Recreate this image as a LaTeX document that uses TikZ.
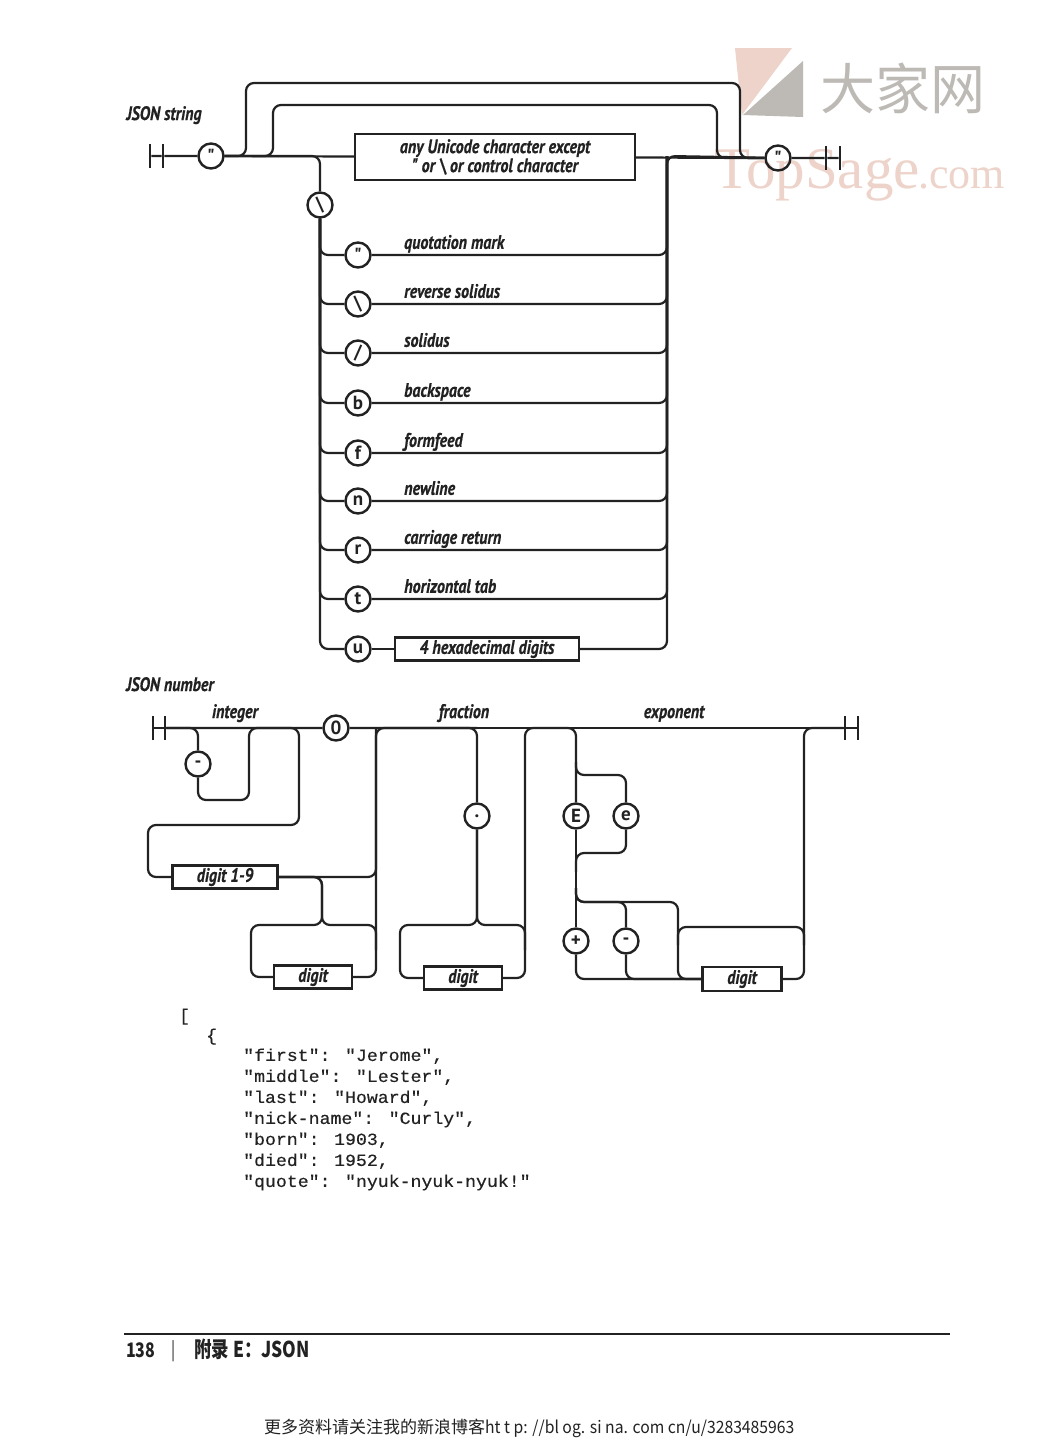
\documentclass[tikz,border=0pt]{standalone}
\usepackage{fontspec}
\usepackage{xcolor}
\usepackage{tikz}
\usetikzlibrary{positioning}
\newfontfamily\labfont[FakeStretch=0.82,FakeBold=0.5]{PT Sans}
\newfontfamily\tokfont{PT Sans}
\newfontfamily\codefont[FakeStretch=1.07,FakeBold=0.4]{Liberation Mono}
\newfontfamily\markfont{Liberation Serif}
\newfontfamily\cjkfont{Noto Sans CJK SC}
\newfontfamily\pagefont[FakeStretch=0.8]{Noto Sans CJK SC}
\newfontfamily\blogfont[FakeStretch=0.925]{Noto Sans CJK SC}
\definecolor{ink}{HTML}{222222}
\definecolor{markpink}{HTML}{EDD3CA}
\definecolor{markgrey}{HTML}{BDBAB6}

\begin{document}
\begin{tikzpicture}[x=1pt, y=-1pt, on grid,
    wire/.style={draw=ink, line width=2.2pt, rounded corners=8pt},
    bar/.style={fill=ink, minimum width=2.4pt, minimum height=24pt, inner sep=0pt},
    tok/.style={circle, draw=ink, line width=2.4pt, minimum size=25pt, inner sep=0pt, text=ink, font=\tokfont\bfseries\fontsize{19}{19}\selectfont},
    rule/.style={rectangle, draw=ink, line width=2.4pt, inner sep=0pt, text=ink, font=\labfont\bfseries\itshape\fontsize{19.5}{19}\selectfont, align=center},
    lab/.style={inner sep=0pt, text depth=0pt, text=ink, font=\labfont\bfseries\itshape\fontsize{19.5}{19}\selectfont},
    code/.style={inner sep=0pt, text=ink, font=\codefont\fontsize{17}{21}\selectfont, align=left}]
    \useasboundingbox[fill=white] (0,0) rectangle (1057,1441);

    % watermark
    \fill[markpink] (735,48) -- (792,48) -- (742,115) -- cycle;
    \fill[markgrey] (803,61) -- (803,117) -- (743,115) -- cycle;
    \node [text=markgrey, font=\cjkfont\fontsize{55}{55}\selectfont, inner sep=0pt] (markcn) at (903,88) {大家网};
    \node [text=markpink, font=\markfont\fontsize{59}{59}\selectfont, inner sep=0pt, anchor=base west] (marktop) at (714,188) {TopSage};
    \node [text=markpink, font=\markfont\fontsize{44}{44}\selectfont, inner sep=0pt, anchor=base west] (markcom) at (918,188) {.com};

    % JSON string
    \node [lab, anchor=base] (strtitle) at (164,120) {JSON string};
    \node [bar] (sa) at (150,156) {};
    \node [bar, right=13pt of sa] (sb) {};
    \node [tok, right=48pt of sb] (qopen) {"};
    \node [rule, minimum width=280pt, minimum height=46pt] (anychar) at (495,157) {any Unicode character except\\" or \textbackslash{} or control character};
    \node [tok] (qclose) at (778,158) {"};
    \node [bar] (sd) at (840,158) {};
    \node [bar, left=14pt of sd] (sc) {};
    \node [tok] (esc) at (320,205) {\textbackslash};
    \coordinate (oa) at (246,83);
    \coordinate (ob) at (740,158);
    \coordinate (ia) at (273,105);
    \coordinate (ib) at (717,158);
    \coordinate (rtop) at (667,156);

    \draw [wire] (sa) -- (sb) -- (qopen) -- (anychar) -- (qclose) -- (sc) -- (sd);
    \draw [wire] (qopen) -| (oa) -| (ob) -- (qclose);
    \draw [wire] (qopen) -| (ia) -| (ib) -- (qclose);
    \draw [wire] (qopen) -| (esc);

    \node [tok] (cq) at (358,255) {"};
    \node [tok, below=49pt of cq] (cback) {\textbackslash};
    \node [tok, below=49pt of cback] (cslash) {/};
    \node [tok, below=50pt of cslash] (cb) {b};
    \node [tok, below=50pt of cb] (cf) {f};
    \node [tok, below=48pt of cf] (cn) {n};
    \node [tok, below=49pt of cn] (cr) {r};
    \node [tok, below=49pt of cr] (ct) {t};
    \node [tok, below=50pt of ct] (cu) {u};
    \node [rule, minimum width=184pt, minimum height=23pt, right=129pt of cu] (hex) {4 hexadecimal digits};

    \node [lab, above right=6pt and 46pt of cq, anchor=south west] (lq) {quotation mark};
    \node [lab, above right=6pt and 46pt of cback, anchor=south west] (lback) {reverse solidus};
    \node [lab, above right=6pt and 46pt of cslash, anchor=south west] (lslash) {solidus};
    \node [lab, above right=6pt and 46pt of cb, anchor=south west] (lb) {backspace};
    \node [lab, above right=6pt and 46pt of cf, anchor=south west] (lf) {formfeed};
    \node [lab, above right=6pt and 46pt of cn, anchor=south west] (ln) {newline};
    \node [lab, above right=6pt and 46pt of cr, anchor=south west] (lr) {carriage return};
    \node [lab, above right=6pt and 46pt of ct, anchor=south west] (lt) {horizontal tab};

    \draw [wire] (esc) |- (cq);
    \draw [wire] (esc) |- (cback);
    \draw [wire] (esc) |- (cslash);
    \draw [wire] (esc) |- (cb);
    \draw [wire] (esc) |- (cf);
    \draw [wire] (esc) |- (cn);
    \draw [wire] (esc) |- (cr);
    \draw [wire] (esc) |- (ct);
    \draw [wire] (esc) |- (cu);
    \draw [wire] (cu) -- (hex);
    \draw [wire] (cq) -| (rtop);
    \draw [wire] (cback) -| (rtop);
    \draw [wire] (cslash) -| (rtop);
    \draw [wire] (cb) -| (rtop);
    \draw [wire] (cf) -| (rtop);
    \draw [wire] (cn) -| (rtop);
    \draw [wire] (cr) -| (rtop);
    \draw [wire] (ct) -| (rtop);
    \draw [wire] (hex) -| (rtop) -- (qclose);

    % JSON number
    \node [lab, anchor=base] (numtitle) at (170,691) {JSON number};
    \node [lab, anchor=base] (lint) at (235,718) {integer};
    \node [lab, anchor=base] (lfrac) at (464,718) {fraction};
    \node [lab, anchor=base] (lexp) at (674,718) {exponent};
    \node [bar] (na) at (153,728) {};
    \node [bar, right=12pt of na] (nb) {};
    \node [tok] (zero) at (336,728) {0};
    \node [bar] (nc) at (845,728) {};
    \node [bar, right=13pt of nc] (nd) {};
    \node [tok] (sign) at (198,764) {-};
    \node [rule, minimum width=105pt, minimum height=23pt] (dnz) at (225,877) {digit 1-9};
    \node [rule, minimum width=78pt, minimum height=23pt] (dint) at (313,977) {digit};
    \node [tok] (dot) at (477,816) {.};
    \node [rule, minimum width=78pt, minimum height=23pt] (dfrac) at (463,978) {digit};
    \node [tok] (ce) at (576,816) {E};
    \node [tok, right=50pt of ce] (cee) {e};
    \node [tok] (plus) at (576,941) {+};
    \node [tok, right=50pt of plus] (minus) {-};
    \node [rule, minimum width=79pt, minimum height=24pt] (dexp) at (742,979) {digit};

    \coordinate (sb1) at (249,800);
    \coordinate (ja) at (299,825);
    \coordinate (jb) at (148,877);
    \coordinate (ka) at (376,728);
    \coordinate (kb) at (322,925);
    \coordinate (kc) at (251,925);
    \coordinate (kd) at (376,950);
    \coordinate (fa) at (400,925);
    \coordinate (fb) at (525,728);
    \coordinate (fc) at (525,925);
    \coordinate (fd) at (525,950);
    \coordinate (ea) at (576,762);
    \coordinate (eb) at (626,775);
    \coordinate (ec) at (576,853);
    \coordinate (ed) at (576,872);
    \coordinate (ef) at (576,888);
    \coordinate (eg) at (678,902);
    \coordinate (eh) at (626,902);
    \coordinate (ej) at (804,728);
    \coordinate (ek) at (678,945);
    \coordinate (el) at (804,927);
    \coordinate (em) at (804,945);

    \draw [wire] (na) -- (nb) -- (zero) -- (nc) -- (nd);
    \draw [wire] (nb) -| (sign);
    \draw [wire] (sign) |- (sb1) |- (zero);
    \draw [wire] (nb) -| (ja) -| (jb) -- (dnz);
    \draw [wire] (dnz) -| (ka) -- (dot |- zero);
    \draw [wire] (dnz) -| (kb) -- (kc) |- (dint);
    \draw [wire] (dnz) -| (kb) -| (kd);
    \draw [wire] (dint) -| (ka);
    \draw [wire] (zero) -| (dot);
    \draw [wire] (dot) |- (fa) |- (dfrac);
    \draw [wire] (dot) |- (fc) -- (fd);
    \draw [wire] (dfrac) -| (fb) -| (ce);
    \draw [wire] (ce) -- (plus);
    \draw [wire] (ea) |- (eb) -- (cee);
    \draw [wire] (cee) |- (ec) -- (ed);
    \draw [wire] (ef) |- (eh) -- (minus);
    \draw [wire] (ef) |- (eg) |- (dexp);
    \draw [wire] (plus) |- (dexp);
    \draw [wire] (minus) |- (dexp);
    \draw [wire] (ek) |- (el) -- (em);
    \draw [wire] (dexp) -| (ej) -- (nc);

    % sample text
    \node [code, anchor=base west] (open1) at (179,1021) {[};
    \node [code, anchor=base west] (open2) at (206,1041) {\{};
    \node [code, anchor=west] (sample) at (243,1119.5) {"first": "Jerome",\\"middle": "Lester",\\"last": "Howard",\\"nick-name": "Curly",\\"born": 1903,\\"died": 1952,\\"quote": "nyuk-nyuk-nyuk!"};

    % page foot
    \node [fill=ink, minimum width=826pt, minimum height=2pt, inner sep=0pt] (footrule) at (537,1334) {};
    \node [anchor=base west, inner sep=0pt, text=ink, font=\pagefont\bfseries\fontsize{20}{20}\selectfont] (pageno) at (126,1357) {138};
    \node [anchor=base, inner sep=0pt, text=ink, font=\pagefont\fontsize{19}{19}\selectfont] (pagesep) at (174,1356) {|};
    \node [anchor=base west, inner sep=0pt, text=ink, font=\pagefont\bfseries\fontsize{21.8}{22}\selectfont] (pagehead) at (194,1357) {附录 E：JSON};
    \node [anchor=base west, inner sep=0pt, text=ink, font=\cjkfont\fontsize{17}{17}\selectfont] (blogline) at (264,1433) {更多资料请关注我的新浪博客{\blogfont ht t p: //bl og. si na. com cn/u/3283485963}};
\end{tikzpicture}
\end{document}
